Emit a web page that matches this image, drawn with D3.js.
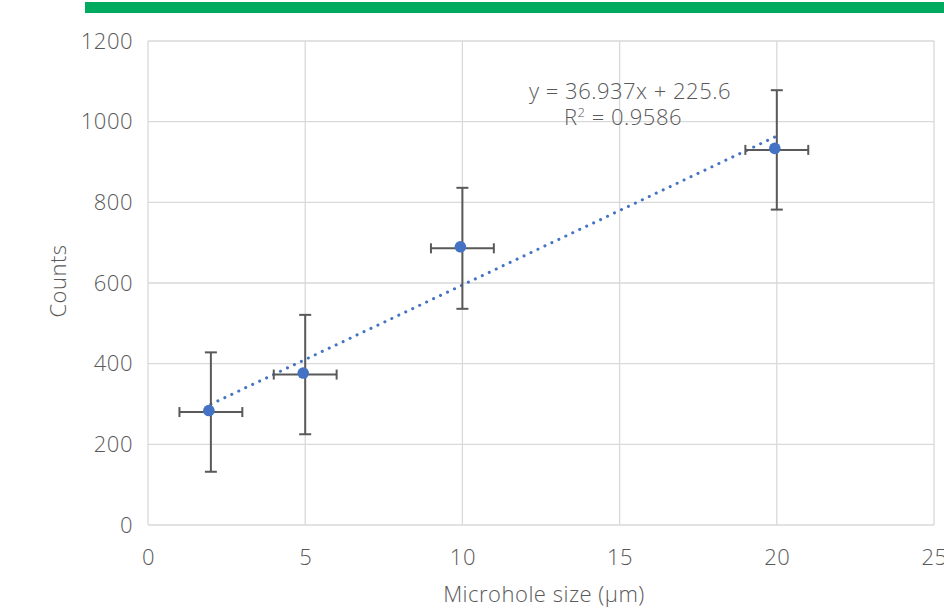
<!DOCTYPE html>
<html><head><meta charset="utf-8">
<script src="https://cdn.jsdelivr.net/npm/d3@7"></script>
<style>
body{margin:0;background:#fff;}
svg{display:block;font-family:"Open Sans",sans-serif;}
text{font-weight:300;letter-spacing:0.5px;}
</style></head>
<body>
<svg id="chart" width="944" height="608"></svg>
<script>
const sizes = [2, 5, 10, 20];
const counts = [280, 373, 686, 930];
const xErr = [1, 1, 1, 1];
const yErr = [148, 148, 150, 148];
const xTicks = [0, 5, 10, 15, 20, 25];
const yTicks = [0, 200, 400, 600, 800, 1000, 1200];
const slope = 36.937, intercept = 225.6;
const eqText = "y = 36.937x + 225.6";
const r2Value = "0.9586";

const FS = 22;
const svg = d3.select("#chart");
const x = d3.scaleLinear().domain([0, 25]).range([148, 934]);
const y = d3.scaleLinear().domain([0, 1200]).range([525, 41]);
const grid = "#D9D9D9", txt = "#595959", blue = "#4472C4", err = "#595959";

// green header bar
svg.append("rect").attr("x", 85).attr("y", 2).attr("width", 859).attr("height", 11).attr("fill", "#00AB5F");

// gridlines
svg.append("g").selectAll("line").data(yTicks).join("line")
  .attr("x1", x(0)).attr("x2", x(25)).attr("y1", d => y(d)).attr("y2", d => y(d))
  .attr("stroke", grid).attr("stroke-width", 1.3);
svg.append("g").selectAll("line").data(xTicks).join("line")
  .attr("y1", y(0)).attr("y2", y(1200)).attr("x1", d => x(d)).attr("x2", d => x(d))
  .attr("stroke", grid).attr("stroke-width", 1.3);

// axes labels
const yAxis = d3.axisLeft(y).tickValues(yTicks).tickFormat(d3.format("d")).tickSize(0).tickPadding(15);
svg.append("g").attr("transform", `translate(${x(0)},0)`).call(yAxis)
  .call(g => g.select(".domain").remove())
  .selectAll("text").attr("font-size", FS).attr("fill", txt).attr("font-family", "Open Sans");
const xAxis = d3.axisBottom(x).tickValues(xTicks).tickFormat(d3.format("d")).tickSize(0).tickPadding(24);
svg.append("g").attr("transform", `translate(0,${y(0)})`).call(xAxis)
  .call(g => g.select(".domain").remove())
  .selectAll("text").attr("font-size", FS).attr("fill", txt).attr("font-family", "Open Sans");

// axis titles
svg.append("text").attr("transform", "translate(66,281) rotate(-90)")
  .attr("text-anchor", "middle").attr("font-size", FS).attr("fill", txt).text("Counts");
svg.append("text").attr("x", 544).attr("y", 602)
  .attr("text-anchor", "middle").attr("font-size", FS).attr("fill", txt).text("Microhole size (µm)");

// trendline
const x0 = d3.min(sizes), x1 = d3.max(sizes);
svg.append("line")
  .attr("x1", x(x0)).attr("y1", y(slope * x0 + intercept))
  .attr("x2", x(x1)).attr("y2", y(slope * x1 + intercept))
  .attr("stroke", blue).attr("stroke-width", 3).attr("stroke-linecap", "round")
  .attr("stroke-dasharray", "0.1 7.6");

// error bars
const pts = sizes.map((s, i) => ({s, c: counts[i], ex: xErr[i], ey: yErr[i]}));
const eb = svg.append("g").attr("stroke", err).attr("stroke-width", 2).attr("fill", "none");
pts.forEach(p => {
  eb.append("line").attr("x1", x(p.s)).attr("x2", x(p.s)).attr("y1", y(p.c - p.ey)).attr("y2", y(p.c + p.ey));
  eb.append("line").attr("x1", x(p.s) - 6).attr("x2", x(p.s) + 6).attr("y1", y(p.c - p.ey)).attr("y2", y(p.c - p.ey));
  eb.append("line").attr("x1", x(p.s) - 6).attr("x2", x(p.s) + 6).attr("y1", y(p.c + p.ey)).attr("y2", y(p.c + p.ey));
  eb.append("line").attr("x1", x(p.s - p.ex)).attr("x2", x(p.s + p.ex)).attr("y1", y(p.c)).attr("y2", y(p.c));
  eb.append("line").attr("x1", x(p.s - p.ex)).attr("x2", x(p.s - p.ex)).attr("y1", y(p.c) - 5).attr("y2", y(p.c) + 5);
  eb.append("line").attr("x1", x(p.s + p.ex)).attr("x2", x(p.s + p.ex)).attr("y1", y(p.c) - 5).attr("y2", y(p.c) + 5);
});

// markers
svg.append("g").selectAll("circle").data(pts).join("circle")
  .attr("cx", d => x(d.s) - 2).attr("cy", d => y(d.c) - 1.5).attr("r", 5.8).attr("fill", blue);

// equation (two separate lines)
svg.append("text").attr("x", 630).attr("y", 99).attr("text-anchor", "middle")
  .attr("font-size", FS).attr("fill", txt).text(eqText);
const l2 = svg.append("text").attr("x", 623).attr("y", 125).attr("text-anchor", "middle")
  .attr("font-size", FS).attr("fill", txt);
l2.append("tspan").text("R");
l2.append("tspan").attr("font-size", 13).attr("dy", -8).text("2");
l2.append("tspan").attr("dy", 8).text(" = " + r2Value);
</script>
</body></html>
